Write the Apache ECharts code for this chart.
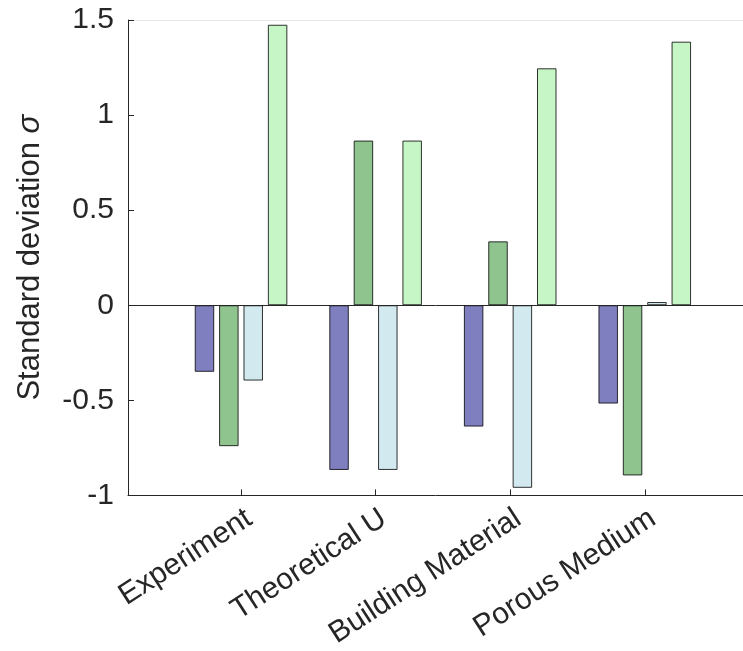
<!DOCTYPE html>
<html>
<head>
<meta charset="utf-8">
<script src="https://cdn.jsdelivr.net/npm/echarts@6/dist/echarts.min.js"></script>
<style>html,body{margin:0;padding:0;background:#fff}#c{width:743px;height:651px}</style>
</head>
<body>
<div id="c"></div>
<script>
const categories = ['Experiment', 'Theoretical U', 'Building Material', 'Porous Medium'];
const series1 = [-0.35, -0.866, -0.638, -0.517];
const series2 = [-0.741, 0.866, 0.336, -0.895];
const series3 = [-0.396, -0.866, -0.96, 0.017];
const series4 = [1.475, 0.866, 1.246, 1.386];
const yTicks = [-1, -0.5, 0, 0.5, 1, 1.5];
const colors = ['#7f7fbf', '#8fc48f', '#d2e9ef', '#c6f6c6'];

const positions = categories.map((c, i) => i + 1);
const toData = vals => vals.map((v, i) => [positions[i], v]);

const chart = echarts.init(document.getElementById('c'));
const font = 'Liberation Sans, Arial, Helvetica, sans-serif';
const axisColor = '#262626';

const seriesList = [series1, series2, series3, series4].map((vals, k) => ({
  type: 'bar',
  data: toData(vals),
  barWidth: 19.5,
  barGap: '25%',
  itemStyle: { color: colors[k], borderColor: 'rgba(0,0,0,0.8)', borderWidth: 1 },
  emphasis: { disabled: true },
  silent: true
}));
seriesList[0].markLine = {
  silent: true,
  symbol: 'none',
  label: { show: false },
  lineStyle: { color: axisColor, width: 1, type: 'solid' },
  data: [{ yAxis: 0 }],
  animation: false
};

chart.setOption({
  animation: false,
  grid: { left: 128, top: 20, right: 0, bottom: 155 },
  xAxis: [{
    type: 'value',
    min: 0.16,
    max: 4.73,
    splitLine: { show: false },
    axisLine: { show: true, onZero: false, lineStyle: { color: axisColor, width: 1 } },
    axisTick: { show: true, inside: true, length: 6, customValues: positions, lineStyle: { color: axisColor } },
    axisLabel: {
      customValues: positions,
      formatter: v => categories[Math.round(v) - 1] || '',
      rotate: 33,
      margin: 8,
      verticalAlign: 'top',
      fontSize: 30,
      fontFamily: font,
      color: axisColor
    }
  }, {
    type: 'value',
    position: 'top',
    min: 0.16,
    max: 4.73,
    splitLine: { show: false },
    axisLine: { show: true, onZero: false, lineStyle: { color: '#e6e6e6', width: 1 } },
    axisTick: { show: false },
    axisLabel: { show: false }
  }],
  yAxis: {
    type: 'value',
    min: yTicks[0],
    max: yTicks[yTicks.length - 1],
    interval: 0.5,
    splitLine: { show: false },
    axisLine: { show: true, lineStyle: { color: axisColor, width: 1 } },
    axisTick: { show: true, inside: true, length: 6, lineStyle: { color: axisColor } },
    axisLabel: { fontSize: 30, fontFamily: font, color: axisColor, margin: 14 },
    name: '{a|Standard deviation }{b|σ}',
    nameLocation: 'middle',
    nameGap: 82,
    nameTextStyle: {
      rich: {
        a: { fontSize: 31, fontFamily: font, color: axisColor },
        b: { fontSize: 31, fontFamily: font, color: axisColor, fontStyle: 'italic' }
      }
    }
  },
  series: seriesList
});
</script>
</body>
</html>
